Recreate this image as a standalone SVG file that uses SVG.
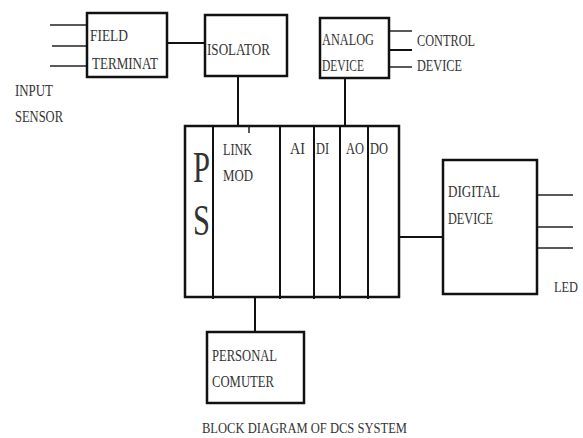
<svg xmlns="http://www.w3.org/2000/svg" width="583" height="438" viewBox="0 0 583 438">
<style>
.box{fill:#fff;stroke:#111;stroke-width:2.5}
.ln{fill:none;stroke:#111;stroke-width:2}
.thin{fill:none;stroke:#222;stroke-width:1.5}
text{font-family:"Liberation Serif","Times New Roman",serif;font-size:17px;fill:#333}
.big{font-size:44px}
</style>
<rect width="583" height="438" fill="#fff"/>
<g id="connectors">
<line class="thin" x1="50" y1="25" x2="87" y2="25"/>
<line class="thin" x1="52" y1="46" x2="87" y2="46"/>
<line class="thin" x1="50" y1="66" x2="87" y2="66"/>
<line class="ln" x1="167" y1="43" x2="205" y2="43"/>
<line class="ln" x1="238" y1="76" x2="238" y2="126"/>
<line class="ln" x1="345" y1="78" x2="345" y2="126"/>
<line class="thin" x1="389" y1="31" x2="412" y2="31"/>
<line class="ln" x1="389" y1="50" x2="412" y2="50"/>
<line class="thin" x1="389" y1="67" x2="412" y2="67"/>
<line class="ln" x1="399" y1="237" x2="443" y2="237"/>
<line class="thin" x1="537" y1="195" x2="573" y2="195"/>
<line class="thin" x1="537" y1="227" x2="573" y2="227"/>
<line class="thin" x1="537" y1="248" x2="573" y2="248"/>
<line class="ln" x1="255" y1="297" x2="255" y2="332"/>
</g>
<g id="field-terminat">
<rect class="box" x="87" y="13" width="80" height="64"/>
<text x="90" y="41" textLength="38" lengthAdjust="spacingAndGlyphs">FIELD</text>
<text x="92" y="69" textLength="66" lengthAdjust="spacingAndGlyphs">TERMINAT</text>
</g>
<g id="input-sensor">
<text x="15" y="96" textLength="38" lengthAdjust="spacingAndGlyphs">INPUT</text>
<text x="15" y="122" textLength="48" lengthAdjust="spacingAndGlyphs">SENSOR</text>
</g>
<g id="isolator">
<rect class="box" x="205" y="15" width="82" height="61"/>
<text x="207" y="55" textLength="63" lengthAdjust="spacingAndGlyphs">ISOLATOR</text>
</g>
<g id="analog-device">
<rect class="box" x="320" y="18" width="69" height="60"/>
<text x="322" y="45" textLength="52" lengthAdjust="spacingAndGlyphs">ANALOG</text>
<text x="322" y="71" textLength="42" lengthAdjust="spacingAndGlyphs">DEVICE</text>
</g>
<g id="control-device">
<text x="417" y="46" textLength="58" lengthAdjust="spacingAndGlyphs">CONTROL</text>
<text x="417" y="71" textLength="45" lengthAdjust="spacingAndGlyphs">DEVICE</text>
</g>
<g id="dcs-rack">
<rect class="box" x="185" y="126" width="214" height="171"/>
<line class="ln" x1="213" y1="126" x2="213" y2="299"/>
<line class="ln" x1="280" y1="126" x2="280" y2="299"/>
<line class="ln" x1="314" y1="126" x2="314" y2="299"/>
<line class="ln" x1="340" y1="126" x2="340" y2="299"/>
<line class="ln" x1="368" y1="126" x2="368" y2="299"/>
<line class="thin" x1="249" y1="126" x2="249" y2="133"/>
<text class="big" x="193" y="182" textLength="17" lengthAdjust="spacingAndGlyphs">P</text>
<text class="big" x="193" y="235" textLength="17" lengthAdjust="spacingAndGlyphs">S</text>
<text x="223" y="155" textLength="29" lengthAdjust="spacingAndGlyphs">LINK</text>
<text x="223" y="181" textLength="30" lengthAdjust="spacingAndGlyphs">MOD</text>
<text x="290" y="154" textLength="15" lengthAdjust="spacingAndGlyphs">AI</text>
<text x="316" y="154" textLength="13" lengthAdjust="spacingAndGlyphs">DI</text>
<text x="346" y="154" textLength="18" lengthAdjust="spacingAndGlyphs">AO</text>
<text x="370" y="154" textLength="18" lengthAdjust="spacingAndGlyphs">DO</text>
</g>
<g id="digital-device">
<rect class="box" x="443" y="160" width="94" height="134"/>
<text x="448" y="197" textLength="52" lengthAdjust="spacingAndGlyphs">DIGITAL</text>
<text x="448" y="224" textLength="45" lengthAdjust="spacingAndGlyphs">DEVICE</text>
</g>
<g id="led">
<text x="554" y="292" textLength="24" lengthAdjust="spacingAndGlyphs" style="font-size:14px">LED</text>
</g>
<g id="personal-computer">
<rect class="box" x="207" y="332" width="97" height="71"/>
<text x="212" y="361" textLength="65" lengthAdjust="spacingAndGlyphs">PERSONAL</text>
<text x="212" y="387" textLength="62" lengthAdjust="spacingAndGlyphs">COMUTER</text>
</g>
<g id="caption">
<text x="202" y="433" textLength="205" lengthAdjust="spacingAndGlyphs" style="font-size:14px">BLOCK DIAGRAM OF DCS SYSTEM</text>
</g>
</svg>
